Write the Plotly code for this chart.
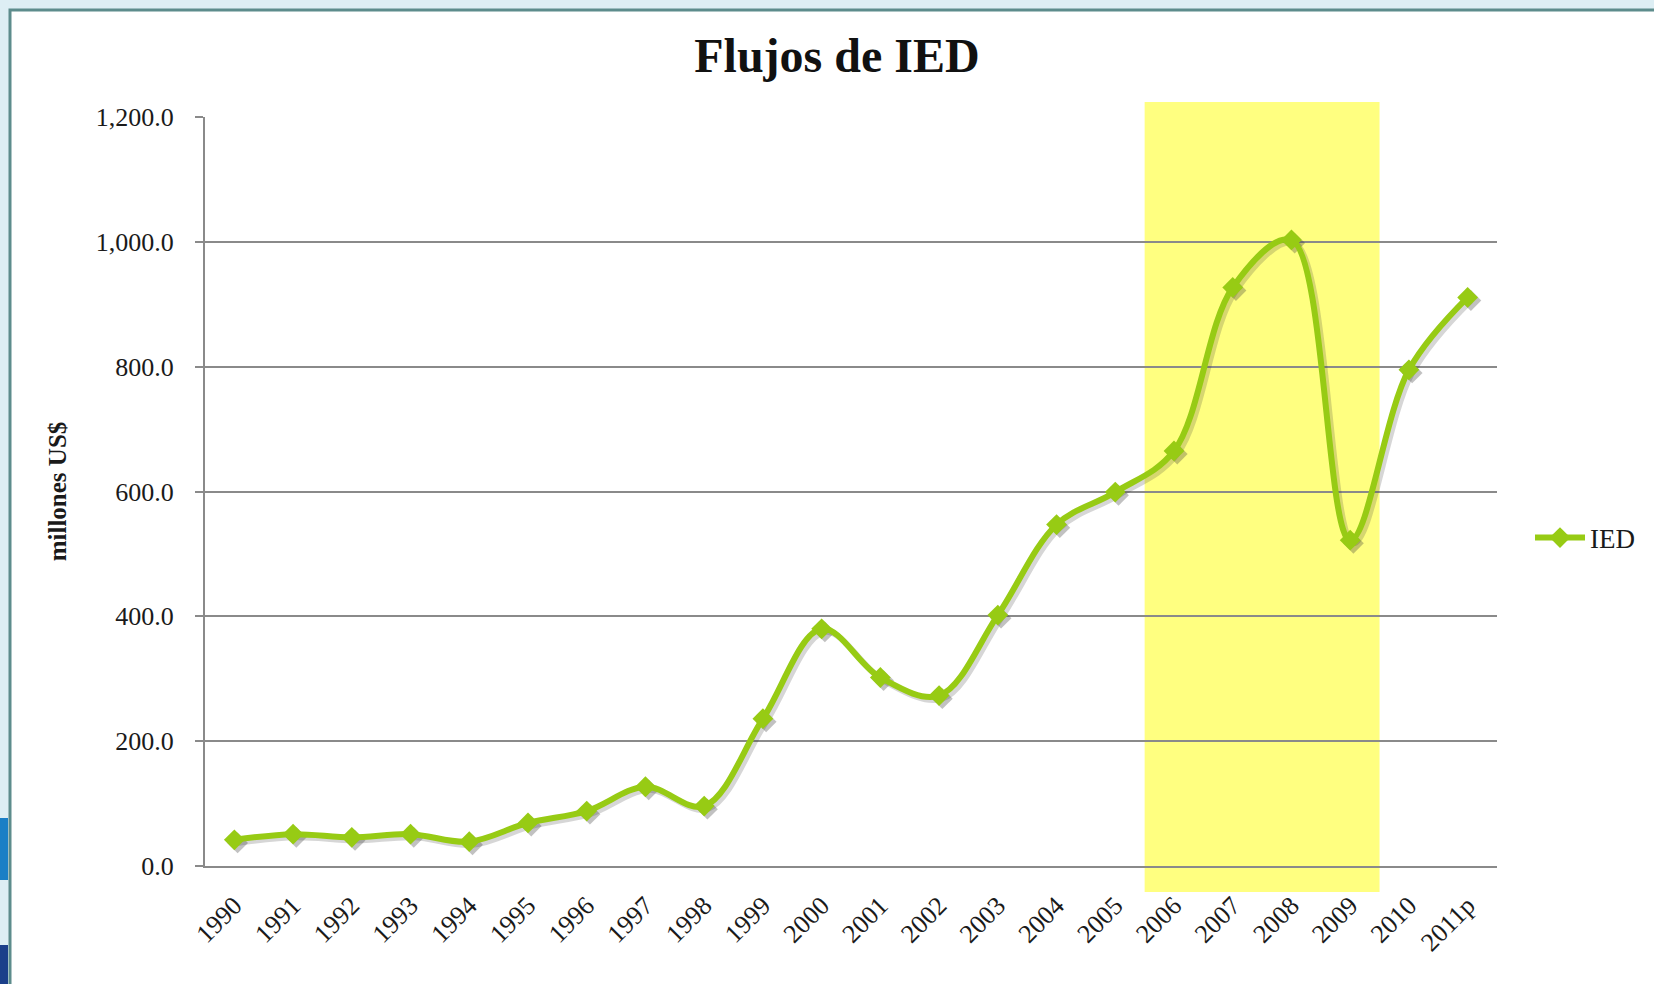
import plotly.graph_objects as go

# data
years = ["1990", "1991", "1992", "1993", "1994", "1995", "1996", "1997", "1998", "1999", "2000",
         "2001", "2002", "2003", "2004", "2005", "2006", "2007", "2008", "2009", "2010", "2011p"]
ied = [42, 51, 46, 51, 39, 69, 88, 127, 96, 236, 380,
       302, 273, 402, 547, 599, 665, 927, 1003, 522, 795, 911]
y_ticks = [0, 200, 400, 600, 800, 1000, 1200]
highlight_years = ["2006", "2009"]

W, H = 1654, 984
M = dict(l=205, r=157, t=117, b=118)
PW = W - M["l"] - M["r"]
PH = H - M["t"] - M["b"]


def px(x):
    return (x - M["l"]) / PW


def py(y):
    return (H - M["b"] - y) / PH


GREEN = "#97cb14"
GRID = "#8a8a8a"
SERIF = "Liberation Serif, Times New Roman, serif"
X_RANGE = [-0.5, len(years) - 0.5]
Y_RANGE = [0, 1200]

fig = go.Figure()

# invisible copy on the main axes so the category axis gets its ticks
fig.add_trace(go.Scatter(x=years, y=ied, mode="lines", opacity=0,
                         showlegend=False, hoverinfo="skip"))

# soft shadow under the line (same data on slightly shifted overlay axes)
fig.add_trace(go.Scatter(
    x=years, y=ied, xaxis="x2", yaxis="y2",
    mode="lines+markers",
    line=dict(color="rgba(50,50,50,0.2)", width=6, shape="spline", smoothing=1.0),
    marker=dict(symbol="diamond", size=16, color="rgba(50,50,50,0.3)"),
    showlegend=False, hoverinfo="skip",
))

# the series itself, drawn on top
fig.add_trace(go.Scatter(
    x=years, y=ied, name="IED", xaxis="x3", yaxis="y3",
    mode="lines+markers",
    line=dict(color=GREEN, width=6, shape="spline", smoothing=1.0),
    marker=dict(symbol="diamond", size=16, color=GREEN),
))

i0 = years.index(highlight_years[0]) - 0.5
i1 = years.index(highlight_years[1]) + 0.5

shapes = [
    # white panel with teal frame on the light blue slide background
    dict(type="rect", xref="paper", yref="paper", layer="below",
         x0=px(10), x1=px(W + 20), y0=py(H + 20), y1=py(10),
         fillcolor="white", line=dict(color="#5d8c8c", width=3)),
    dict(type="rect", xref="paper", yref="paper", layer="below",
         x0=px(0), x1=px(8), y0=py(880), y1=py(818),
         fillcolor="#1a7fc6", line=dict(width=0)),
    dict(type="rect", xref="paper", yref="paper", layer="below",
         x0=px(0), x1=px(8), y0=py(H), y1=py(945),
         fillcolor="#1b3f8a", line=dict(width=0)),
    # highlighted period, under the gridlines
    dict(type="rect", xref="x", yref="paper", layer="below",
         x0=i0, x1=i1, y0=py(892), y1=py(102),
         fillcolor="#ffff80", line=dict(width=0)),
]

fig.update_layout(
    width=W, height=H,
    margin=M,
    paper_bgcolor="#ddeef4",
    plot_bgcolor="rgba(0,0,0,0)",
    font=dict(family=SERIF, color="#1a1a1a", size=26),
    title=dict(text="<b>Flujos de IED</b>", x=0.506, xref="container", xanchor="center",
               y=1 - 55 / H, yref="container", yanchor="middle",
               font=dict(family=SERIF, size=48, color="#111111")),
    shapes=shapes,
    showlegend=True,
    legend=dict(x=px(1530), xanchor="left", y=py(538), yanchor="middle",
                bgcolor="rgba(0,0,0,0)", font=dict(family=SERIF, size=27, color="#1a1a1a"),
                itemwidth=50),
    xaxis=dict(type="category", categoryorder="array", categoryarray=years,
               range=X_RANGE, showgrid=False,
               showline=True, linecolor=GRID, linewidth=2,
               ticks="", tickangle=-45, ticklabelstandoff=12,
               tickfont=dict(family=SERIF, size=26)),
    yaxis=dict(range=Y_RANGE, tickvals=y_ticks, tickformat=",.1f",
               showgrid=True, gridcolor=GRID, gridwidth=1.5,
               showline=True, linecolor=GRID, linewidth=2,
               ticks="outside", ticklen=8, tickcolor=GRID, tickwidth=1.5,
               ticklabelstandoff=16, zeroline=False,
               tickfont=dict(family=SERIF, size=26),
               title=dict(text="<b>millones US$</b>", standoff=22,
                          font=dict(family=SERIF, size=25))),
    # shadow axes: shifted a few pixels right and down
    xaxis2=dict(type="category", categoryorder="array", categoryarray=years,
                overlaying="x", range=[X_RANGE[0] - 0.055, X_RANGE[1] - 0.055], visible=False),
    yaxis2=dict(overlaying="y", range=[Y_RANGE[0] + 5, Y_RANGE[1] + 5], visible=False),
    xaxis3=dict(type="category", categoryorder="array", categoryarray=years,
                overlaying="x", range=X_RANGE, visible=False),
    yaxis3=dict(overlaying="y", range=Y_RANGE, visible=False),
)

fig.write_html("out.html", config=dict(displayModeBar=False),
               post_script="document.body.style.margin='0';document.body.style.overflow='hidden';")
